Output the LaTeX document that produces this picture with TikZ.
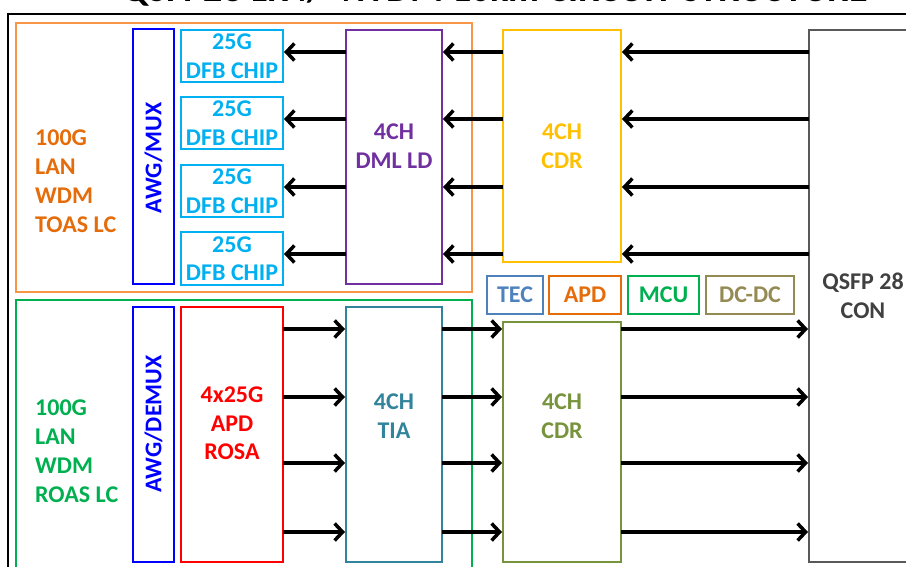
\documentclass[tikz,border=0pt]{standalone}
\usepackage{fontspec}
\setmainfont{Carlito}
\usetikzlibrary{arrows.meta}
\definecolor{cOrFrame}{HTML}{F79646}
\definecolor{cOrTxt}{HTML}{E46C0A}
\definecolor{cGreen}{HTML}{00B050}
\definecolor{cBlue}{HTML}{0000FF}
\definecolor{cCyan}{HTML}{00B0F0}
\definecolor{cPurple}{HTML}{7030A0}
\definecolor{cYellow}{HTML}{FFC000}
\definecolor{cGray}{HTML}{595959}
\definecolor{cGrayTxt}{HTML}{404040}
\definecolor{cTEC}{HTML}{4F81BD}
\definecolor{cRed}{HTML}{FF0000}
\definecolor{cTIA}{HTML}{31849B}
\definecolor{cOlive}{HTML}{77933C}
\definecolor{cKhaki}{HTML}{948A54}
\tikzset{
  blk/.style={draw=#1, line width=2.5pt, inner sep=0pt, outer sep=0pt, fill=none},
  lbl/.style={text=#1, font=\fontsize{24}{28.5}\selectfont\bfseries, align=center, inner sep=0pt},
  side/.style={text=#1, font=\fontsize{24}{29}\selectfont\bfseries, align=left, inner sep=0pt, anchor=west},
  arr/.style={line width=3.5pt, -{Straight Barb[length=8pt,width=17pt,line width=3.5pt]}, shorten >=1pt}
}
\newcommand{\bx}[6]{\node[blk=#2, minimum width=#5-#3, minimum height=#6-#4, anchor=north west] (#1) at (#3,#4) {};}
\begin{document}
\begin{tikzpicture}[x=1pt,y=-1pt]
\useasboundingbox (0,0) rectangle (906,567);
\clip (0,0) rectangle (906,567);
% title (cut off at the top)
\node[anchor=base, inner sep=0pt, font=\fontsize{38}{40}\selectfont\bfseries] (title) at (495,1.5) {QSFP28 LR4/ 4WDM 10km CIRCUIT STRUCTURE};
% outer frame
\draw[line width=2.5pt] (8,600) -- (8,14) -- (920,14);
% group frames
\bx{tosa}{cOrFrame}{16}{23}{472}{292}
\bx{rosa}{cGreen}{16}{300}{472}{600}
% top row
\bx{mux}{cBlue}{133}{29}{174}{284}
\node[lbl=cBlue, rotate=90] (muxt) at (153.5,158) {AWG/MUX};
\bx{dfb1}{cCyan}{181}{30}{283}{82}
\bx{dfb2}{cCyan}{181}{97}{283}{149}
\bx{dfb3}{cCyan}{181}{165}{283}{217}
\bx{dfb4}{cCyan}{181}{232}{283}{285}
\foreach \n/\y in {1/56,2/123,3/191,4/258.5}{
  \node[lbl=cCyan] (dfbt\n) at (232,\y) {25G\\DFB CHIP};
}
\bx{dml}{cPurple}{346}{30}{442}{284}
\node[lbl=cPurple] (dmlt) at (394,146) {4CH\\DML LD};
\bx{cdrT}{cYellow}{503}{30}{621}{262}
\node[lbl=cYellow] (cdrTt) at (562,146) {4CH\\CDR};
\bx{qsfp}{cGray}{809}{30}{930}{562}
\node[lbl=cGrayTxt] (qsfpt) at (863,296) {QSFP 28\\CON};
\node[side=cOrTxt] (tosat) at (35,181) {100G\\LAN\\WDM\\TOAS LC};
% small boxes
\bx{tec}{cTEC}{487}{276}{543}{314}
\node[lbl=cTEC] at (tec.center) {TEC};
\bx{apd}{cOrTxt}{549}{276}{621}{314}
\node[lbl=cOrTxt] at (apd.center) {APD};
\bx{mcu}{cGreen}{628}{276}{699}{314}
\node[lbl=cGreen] at (mcu.center) {MCU};
\bx{dcdc}{cKhaki}{706}{276}{794}{314}
\node[lbl=cKhaki] at (dcdc.center) {DC-DC};
% bottom row
\bx{demux}{cBlue}{133}{307}{174}{562}
\node[lbl=cBlue, rotate=90] (demuxt) at (153.5,424) {AWG/DEMUX};
\bx{apdr}{cRed}{181}{307}{283}{562}
\node[lbl=cRed] (apdrt) at (232,423.5) {4x25G\\APD\\ROSA};
\bx{tia}{cTIA}{346}{307}{442}{562}
\node[lbl=cTIA] (tiat) at (394,416) {4CH\\TIA};
\bx{cdrB}{cOlive}{503}{322}{621}{562}
\node[lbl=cOlive] (cdrBt) at (562,416) {4CH\\CDR};
\node[side=cGreen] (rosat) at (35,451) {100G\\LAN\\WDM\\ROAS LC};
% arrows
\foreach \i/\y in {1/52,2/119,3/187,4/254}{
  \coordinate (t\i) at (0,\y);
  \draw[arr] (qsfp.west |- t\i) -- (cdrT.east |- t\i);
  \draw[arr] (cdrT.west |- t\i) -- (dml.east |- t\i);
  \draw[arr] (dml.west |- t\i) -- (dfb\i.east |- t\i);
}
\foreach \i/\y in {1/329,2/397,3/463,4/532}{
  \coordinate (b\i) at (0,\y);
  \draw[arr] (apdr.east |- b\i) -- (tia.west |- b\i);
  \draw[arr] (tia.east |- b\i) -- (cdrB.west |- b\i);
  \draw[arr] (cdrB.east |- b\i) -- (qsfp.west |- b\i);
}
\end{tikzpicture}
\end{document}
